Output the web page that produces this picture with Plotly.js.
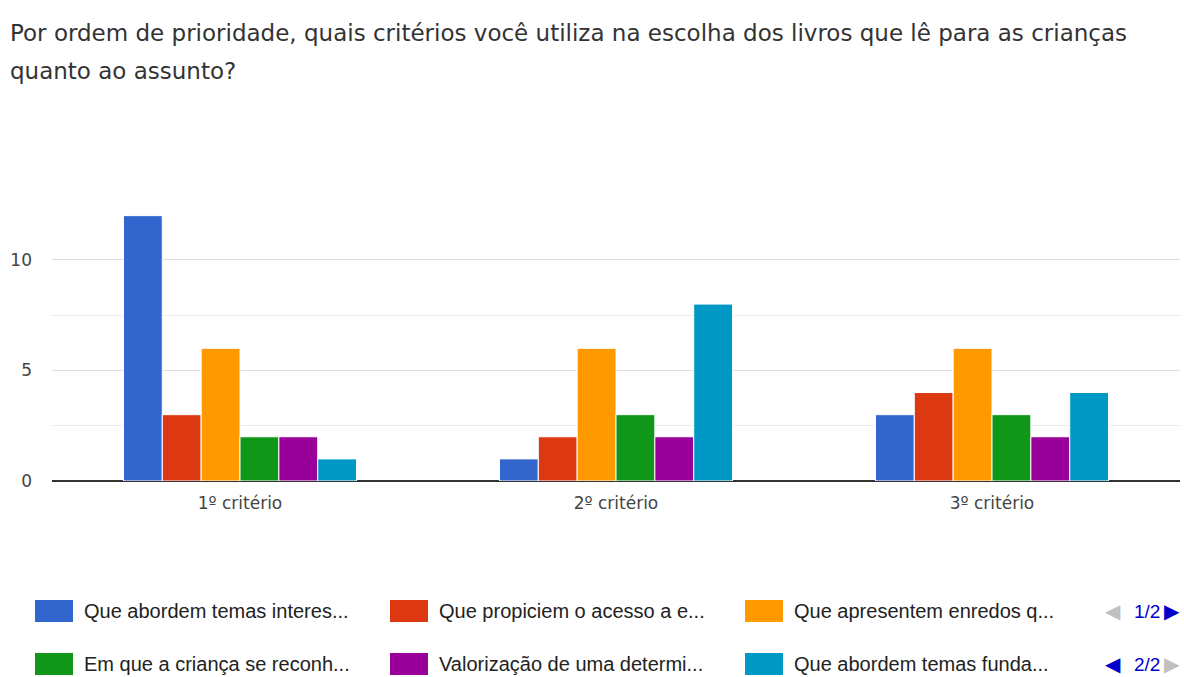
<!DOCTYPE html>
<html><head><meta charset="utf-8">
<script src="https://cdn.plot.ly/plotly-3.0.1.min.js"></script>
<style>html,body{margin:0;padding:0;background:#fff}#chart{width:1184px;height:677px}</style>
</head><body><div id="chart"></div>
<script>
const categories = ["1º critério", "2º critério", "3º critério"];
const seriesNames = [
  "Que abordem temas interes...",
  "Que propiciem o acesso a e...",
  "Que apresentem enredos q...",
  "Em que a criança se reconh...",
  "Valorização de uma determi...",
  "Que abordem temas funda..."
];
const temasInteressantes = [12, 1, 3];
const acessoA = [3, 2, 4];
const enredos = [6, 6, 6];
const criancaReconhece = [2, 3, 3];
const valorizacao = [2, 2, 2];
const temasFundamentais = [1, 8, 4];
const colors = ["#3366cc", "#dc3912", "#ff9900", "#109618", "#990099", "#0099c6"];
const titleLines = [
  "Por ordem de prioridade, quais critérios você utiliza na escolha dos livros que lê para as crianças",
  "quanto ao assunto?"
];

const seriesValues = [temasInteressantes, acessoA, enredos, criancaReconhece, valorizacao, temasFundamentais];

const W = 1184, H = 677;
const L = 52, R = 4, T = 209, B = 196;
const px = x => (x - L) / (W - L - R);
const py = y => (H - B - y) / (H - B - T);

const traces = seriesValues.map((vals, i) => ({
  type: "bar",
  x: categories,
  y: vals,
  name: seriesNames[i],
  marker: {color: colors[i], line: {color: "#ffffff", width: 1}},
  hoverinfo: "x+y+name"
}));

const annotations = [];
const shapes = [];
titleLines.forEach((t, i) => {
  annotations.push({
    text: t, xref: "paper", yref: "paper", x: px(8), y: py(i === 0 ? 33 : 71),
    xanchor: "left", yanchor: "middle", showarrow: false,
    font: {family: "DejaVu Sans, sans-serif", size: 23, color: "#333333"}
  });
});

// custom legend (two pages stacked, as in the reference)
const colX = [35, 390, 745];
const rowY = [611, 664];
seriesNames.forEach((n, i) => {
  const row = Math.floor(i / 3), col = i % 3;
  const cx = colX[col], cy = rowY[row];
  shapes.push({
    type: "rect", xref: "paper", yref: "paper",
    x0: px(cx), x1: px(cx + 38), y0: py(cy - 11), y1: py(cy + 11),
    fillcolor: colors[i], line: {width: 0}
  });
  annotations.push({
    text: n, xref: "paper", yref: "paper", x: px(cx + 47), y: py(cy),
    xanchor: "left", yanchor: "middle", showarrow: false,
    font: {family: "Liberation Sans, Arial, sans-serif", size: 20, color: "#222222"}
  });
});
// page indicators
const pager = [
  {left: "#c0c0c0", text: "1/2", right: "#0000cc", y: rowY[0]},
  {left: "#0000cc", text: "2/2", right: "#c0c0c0", y: rowY[1]}
];
pager.forEach(p => {
  annotations.push({text: "◀", xref: "paper", yref: "paper", x: px(1113), y: py(p.y),
    xanchor: "center", yanchor: "middle", showarrow: false,
    font: {family: "DejaVu Sans", size: 20, color: p.left}});
  annotations.push({text: p.text, xref: "paper", yref: "paper", x: px(1147), y: py(p.y),
    xanchor: "center", yanchor: "middle", showarrow: false,
    font: {family: "Liberation Sans, Arial, sans-serif", size: 19, color: "#0000cc"}});
  annotations.push({text: "▶", xref: "paper", yref: "paper", x: px(1172), y: py(p.y),
    xanchor: "center", yanchor: "middle", showarrow: false,
    font: {family: "DejaVu Sans", size: 20, color: p.right}});
});

const layout = {
  width: W, height: H,
  margin: {l: L, r: R, t: T, b: B, pad: 0},
  paper_bgcolor: "#ffffff", plot_bgcolor: "#ffffff",
  barmode: "group", bargap: 0.38, bargroupgap: 0,
  showlegend: false,
  font: {family: "DejaVu Sans, sans-serif", color: "#444444"},
  xaxis: {
    type: "category", showgrid: false, ticks: "", showline: false, zeroline: false,
    tickfont: {family: "DejaVu Sans, sans-serif", size: 17, color: "#444444"}, ticklabelstandoff: 10, fixedrange: true
  },
  yaxis: {
    range: [0, 12.3], tickvals: [0, 5, 10], showgrid: true, gridcolor: "#dddddd", gridwidth: 1,
    minor: {dtick: 2.5, tick0: 0, showgrid: true, gridcolor: "#ececec", gridwidth: 1, ticks: ""},
    zeroline: true, zerolinecolor: "#333333", zerolinewidth: 1.5, showline: false, ticks: "",
    tickfont: {family: "DejaVu Sans, sans-serif", size: 17, color: "#444444"}, ticklabelstandoff: 19, fixedrange: true
  },
  annotations: annotations,
  shapes: shapes
};

Plotly.newPlot("chart", traces, layout, {displayModeBar: false, staticPlot: true});
</script></body></html>
